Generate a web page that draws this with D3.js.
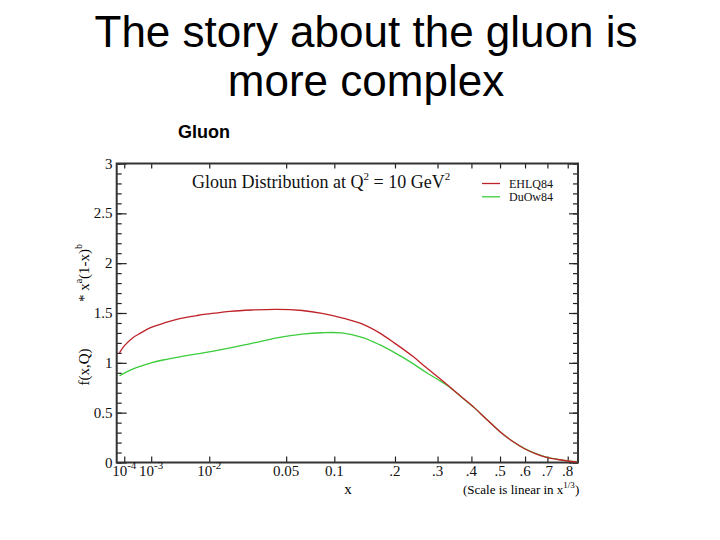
<!DOCTYPE html>
<html>
<head>
<meta charset="utf-8">
<script src="https://cdn.jsdelivr.net/npm/d3@7"></script>
<style>
  html, body { margin: 0; padding: 0; background: #fff; }
  svg { display: block; }
</style>
</head>
<body>
<svg id="chart" width="720" height="540"></svg>
<script>
// ---- data ----
const titleLines = ["The story about the gluon is", "more complex"];
const subTitle = "Gluon";
const seriesNames = ["EHLQ84", "DuOw84"];
const seriesColors = ["#bf2229", "#3ccc3c"];

const xValues = [5e-5, 1e-4, 2.5e-4, 5e-4, 1e-3, 2e-3, 4e-3, 7e-3, 0.01, 0.017, 0.027, 0.043,
                 0.064, 0.085, 0.11, 0.14, 0.17, 0.2, 0.24, 0.27, 0.3, 0.33, 0.37, 0.41,
                 0.45, 0.5, 0.55, 0.6, 0.65, 0.7, 0.75, 0.8, 0.85];
const ehlq84 = [1.10, 1.17, 1.25, 1.30, 1.355, 1.40, 1.445, 1.475, 1.492, 1.517, 1.53, 1.537,
                1.525, 1.497, 1.452, 1.39, 1.30, 1.195, 1.06, 0.955, 0.86, 0.77, 0.655, 0.548,
                0.437, 0.309, 0.21, 0.135, 0.085, 0.05, 0.03, 0.015, 0.006];
const duow84 = [0.87, 0.897, 0.937, 0.968, 1.0, 1.031, 1.062, 1.09, 1.11, 1.15, 1.196, 1.25,
                1.288, 1.302, 1.30, 1.256, 1.182, 1.10, 0.99, 0.905, 0.835, 0.765, 0.653, 0.548,
                0.437, 0.309, 0.21, 0.136, 0.086, 0.051, 0.032, 0.017, 0.008];

const xTickValues = [1e-4, 1e-3, 1e-2, 0.05, 0.1, 0.2, 0.3, 0.4, 0.5, 0.6, 0.7, 0.8];
const xTickLabels = ["10^-4", "10^-3", "10^-2", "0.05", "0.1", ".2", ".3", ".4", ".5", ".6", ".7", ".8"];
const yTickValues = [0, 0.5, 1, 1.5, 2, 2.5, 3];
const yTickLabels = ["0", "0.5", "1", "1.5", "2", "2.5", "3"];
const yMinorTicks = d3.range(0, 31).map(i => i / 10);

// ---- layout ----
const svg = d3.select("#chart");
const L = 116.7, R = 578, T = 163.5, B = 462.5;
const serif = "'Liberation Serif', 'Times New Roman', serif";
const sans = "'Liberation Sans', Arial, sans-serif";

const x = d3.scalePow().exponent(1 / 3).domain([3.1e-5, 0.854]).range([L, R]);
const y = d3.scaleLinear().domain([0, 3]).range([B, T]);

// titles
svg.selectAll("text.title").data(titleLines).join("text")
  .attr("class", "title")
  .attr("x", 366).attr("y", (d, i) => 47 + i * 49)
  .attr("text-anchor", "middle")
  .style("font-family", sans).style("font-size", "44px").attr("fill", "#000")
  .text(d => d);

svg.append("text").attr("x", 178).attr("y", 138)
  .style("font-family", sans).style("font-size", "18px").style("font-weight", "bold")
  .text(subTitle);

// axes (ticks inward)
const axisStyle = g => {
  g.select(".domain").remove();
  g.selectAll(".tick line").attr("stroke", "#222").attr("stroke-width", 1.2);
  g.selectAll(".tick text").remove();
};
svg.append("g").attr("transform", `translate(0,${B})`)
  .call(d3.axisBottom(x).tickValues(xTickValues).tickSize(-6)).call(axisStyle);
svg.append("g").attr("transform", `translate(0,${T})`)
  .call(d3.axisTop(x).tickValues(xTickValues).tickSize(-5)).call(axisStyle);
svg.append("g").attr("transform", `translate(${L},0)`)
  .call(d3.axisLeft(y).tickValues(yMinorTicks).tickSize(-5)).call(axisStyle);
svg.append("g").attr("transform", `translate(${L},0)`)
  .call(d3.axisLeft(y).tickValues(yTickValues).tickSize(-10)).call(axisStyle);
svg.append("g").attr("transform", `translate(${R},0)`)
  .call(d3.axisRight(y).tickValues(yMinorTicks).tickSize(-5)).call(axisStyle);
svg.append("g").attr("transform", `translate(${R},0)`)
  .call(d3.axisRight(y).tickValues(yTickValues).tickSize(-9)).call(axisStyle);

// frame
svg.append("rect").attr("x", L).attr("y", T).attr("width", R - L).attr("height", B - T)
  .attr("fill", "none").attr("stroke", "#333").attr("stroke-width", 2);

// x tick labels with superscripts
const xl = svg.selectAll("text.xtl").data(xTickValues).join("text")
  .attr("class", "xtl")
  .attr("x", d => x(d)).attr("y", 476)
  .attr("text-anchor", "middle")
  .style("font-family", serif).style("font-size", "15px").attr("fill", "#111");
xl.each(function (d, i) {
  const parts = xTickLabels[i].split("^");
  const t = d3.select(this);
  t.append("tspan").text(parts[0]);
  if (parts[1]) t.append("tspan").attr("dy", -7).style("font-size", "11px").text(parts[1]);
});

// y tick labels
svg.selectAll("text.ytl").data(yTickValues).join("text")
  .attr("class", "ytl")
  .attr("x", 112.5).attr("y", d => y(d) + 5)
  .attr("text-anchor", "end")
  .style("font-family", serif).style("font-size", "15px").attr("fill", "#111")
  .text((d, i) => yTickLabels[i]);

// axis titles
svg.append("text").attr("x", 348).attr("y", 494).attr("text-anchor", "middle")
  .style("font-family", serif).style("font-size", "15px").text("x");
const sc = svg.append("text").attr("x", 463).attr("y", 494)
  .style("font-family", serif).style("font-size", "13px");
sc.append("tspan").text("(Scale is linear in x");
sc.append("tspan").attr("dy", -6).style("font-size", "9px").text("1/3");
sc.append("tspan").attr("dy", 6).text(")");

const yl = svg.append("g").attr("transform", "translate(89,0) rotate(-90)")
  .style("font-family", serif).style("font-size", "15px");
yl.append("text").attr("x", -367).attr("y", 0).attr("text-anchor", "middle").text("f(x,Q)");
const yl2 = yl.append("text").attr("x", -273).attr("y", 0).attr("text-anchor", "middle");
yl2.append("tspan").text("* x");
yl2.append("tspan").attr("dy", -7).style("font-size", "10px").text("a");
yl2.append("tspan").attr("dy", 7).text("(1-x)");
yl2.append("tspan").attr("dy", -7).style("font-size", "10px").text("b");

// inner title
const it = svg.append("text").attr("x", 192).attr("y", 188)
  .style("font-family", serif).style("font-size", "18px").attr("fill", "#111");
it.append("tspan").text("Gloun Distribution at Q");
it.append("tspan").attr("dy", -8).style("font-size", "11px").text("2");
it.append("tspan").attr("dy", 8).text(" = 10 GeV");
it.append("tspan").attr("dy", -8).style("font-size", "11px").text("2");

// legend
const lg = svg.selectAll("g.leg").data(seriesNames).join("g").attr("class", "leg")
  .attr("transform", (d, i) => `translate(482,${183.5 + i * 13.3})`);
lg.append("line").attr("x1", 0).attr("x2", 18)
  .attr("stroke", (d, i) => seriesColors[i]).attr("stroke-width", 1.3);
lg.append("text").attr("x", 27).attr("y", 4)
  .style("font-family", serif).style("font-size", "12px").attr("fill", "#111")
  .text(d => d);

// curves
const line = d3.line().x((d, i) => x(xValues[i])).y(d => y(d)).curve(d3.curveCatmullRom.alpha(0.5));
svg.selectAll("path.curve").data([duow84, ehlq84]).join("path")
  .attr("class", "curve")
  .attr("d", line)
  .attr("fill", "none")
  .attr("stroke", (d, i) => seriesColors[1 - i])
  .attr("stroke-width", 1.3);
</script>
</body>
</html>
